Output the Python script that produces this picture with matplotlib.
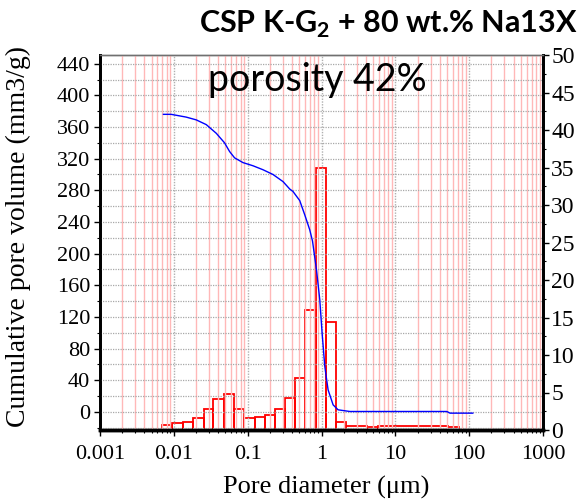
import numpy as np
import matplotlib.pyplot as plt
from matplotlib.ticker import LogLocator, MultipleLocator, FixedLocator, NullFormatter

# histogram bins (pore diameter, um) and incremental volume (right axis)
bin_edges = [0.00685, 0.00937, 0.0132, 0.0181, 0.0255, 0.0337, 0.0472, 0.0650,
             0.0889, 0.1256, 0.1714, 0.2344, 0.3207, 0.4379, 0.598, 0.845,
             1.154, 1.588, 2.137, 4.08, 5.75, 52.3, 73.8]
bin_heights = [0.62, 0.93, 1.07, 1.56, 2.76, 4.09, 4.76, 2.76, 1.56, 1.69,
               2.0, 2.76, 4.22, 6.93, 15.96, 34.9, 14.36, 1.02, 0.49, 0.36,
               0.49, 0.36]

# cumulative pore volume curve (left axis)
cum_d = [0.00723, 0.0092, 0.0147, 0.0201, 0.0275, 0.0376, 0.0486, 0.0569,
         0.0665, 0.0863, 0.118, 0.161, 0.220, 0.301, 0.372, 0.411, 0.507,
         0.593, 0.693, 0.755, 0.855, 0.948, 1.019, 1.109, 1.228, 1.436,
         1.679, 2.42, 4.52, 49.8, 55, 112]
cum_v = [376, 376, 372.5, 369, 363, 352, 340, 329, 321, 315, 311, 306, 300,
         291, 281.5, 278.5, 267, 249, 230, 216, 179.5, 141.6, 99.5, 57, 27.8,
         8.8, 2.5, 0.4, 0.4, 0.4, -1.7, -1.7]

x_ticks = [0.001, 0.01, 0.1, 1, 10, 100, 1000]
x_labels = ["0.001", "0.01", "0.1", "1", "10", "100", "1000"]
left_ticks = list(range(0, 441, 40))
right_ticks = list(range(0, 51, 5))

serif = "Liberation Serif"
plt.rcParams["mathtext.fontset"] = "custom"
plt.rcParams["mathtext.rm"] = "Lato"
plt.rcParams["mathtext.bf"] = "Lato:bold"

fig = plt.figure(figsize=(5.8, 5.01), dpi=100)
ax = fig.add_axes([100 / 580, 1 - 430 / 501, 443 / 580, 375 / 501])
ax2 = ax.twinx()

ax.set_xscale("log")
ax.set_xlim(0.001, 1000)
ax.set_ylim(-23, 451)
ax2.set_ylim(0, 50)

# vertical grid: pink minors, gray dotted decades
for dec in range(-3, 3):
    for m in range(2, 10):
        ax.axvline(m * 10.0 ** dec, color="#ffb8b8", lw=1.0, zorder=0)
for t in x_ticks[1:-1]:
    ax.axvline(t, color="#b0b0b0", lw=1.0, ls=(0, (1, 1)), zorder=0)
# horizontal dotted grid
for yv in np.arange(-20, 451, 20):
    ax.axhline(yv, color="#a8a8a8", lw=0.9, ls=(0, (1, 1)), zorder=0)

# histogram on right axis
lefts = np.array(bin_edges[:-1])
widths = np.diff(bin_edges)
ax2.bar(lefts, bin_heights, width=widths, align="edge", facecolor="none",
        edgecolor="red", lw=1.3, zorder=2)

# cumulative curve on left axis
ax.plot(cum_d, cum_v, color="blue", lw=1.0, zorder=3)
ax.set_zorder(ax2.get_zorder() + 1)
ax.patch.set_visible(False)

# ticks
ax.xaxis.set_major_locator(FixedLocator(x_ticks))
ax.set_xticklabels(x_labels, fontfamily=serif, fontsize=16)
ax.xaxis.set_minor_locator(LogLocator(base=10, subs=np.arange(2, 10)))
ax.xaxis.set_minor_formatter(NullFormatter())
ax.set_yticks(left_ticks)
ax.set_yticklabels([str(v) for v in left_ticks], fontfamily=serif, fontsize=16)
ax.yaxis.set_minor_locator(FixedLocator(np.arange(-20, 451, 20)))
ax2.set_yticks(right_ticks)
ax2.set_yticklabels([str(v) for v in right_ticks], fontfamily=serif, fontsize=17)
ax2.yaxis.set_minor_locator(MultipleLocator(2.5))

ax.tick_params(axis="y", which="major", length=4, width=1, pad=3)
ax.tick_params(axis="x", which="major", length=4, width=1, pad=7)
ax.tick_params(axis="both", which="minor", length=2, width=0.8)
ax2.tick_params(axis="y", which="major", length=4, width=1, pad=2)
ax2.tick_params(axis="y", which="minor", length=2, width=0.8)

for a in (ax, ax2):
    a.spines["left"].set_linewidth(2)
    a.spines["bottom"].set_linewidth(2.5)
    a.spines["right"].set_linewidth(2)
    a.spines["top"].set_linewidth(1)
    a.spines["top"].set_color("#707070")

ax.set_xlabel("Pore diameter (\u03bcm)", fontfamily=serif, fontsize=19)
ax.xaxis.set_label_coords(0.51, -0.122)
ax.set_ylabel("Cumulative pore volume (mm3/g)", fontfamily=serif, fontsize=20)
ax.yaxis.set_label_coords(-0.155, 0.515)

fig.text(388 / 580, 1 - 24 / 501, "CSP K-G$_\\mathbf{2}$ + 80 wt.% Na13X",
         ha="center", va="center", fontsize=22, fontweight="bold", fontfamily="Lato")
fig.text(317 / 580, 1 - 80 / 501, "porosity 42%", ha="center", va="center",
         fontsize=27, fontfamily="Lato")

fig.savefig("out.png", dpi=100)
